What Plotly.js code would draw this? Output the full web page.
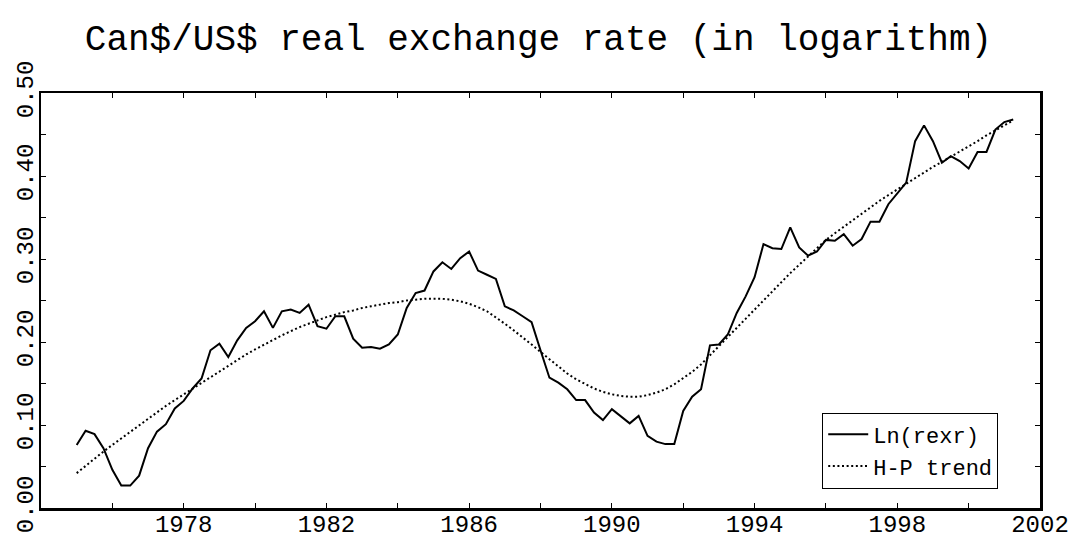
<!DOCTYPE html>
<html><head><meta charset="utf-8">
<script src="https://cdn.plot.ly/plotly-3.0.1.min.js"></script>
<style>html,body{margin:0;padding:0;background:#fff;}</style>
</head><body>
<div id="chart" style="width:1077px;height:538px;"></div>
<script>
const titleText = "Can$/US$ real exchange rate (in logarithm)";
const seriesNames = ["Ln(rexr)", "H-P trend"];
const firstYear = 1975;       // first observation: 1975 Q1
const periodsPerYear = 4;     // quarterly data

// Ln(real exchange rate), quarterly 1975Q1 - 2001Q2
const rexr = [
  0.076, 0.093, 0.089, 0.072,
  0.046, 0.027, 0.027, 0.039,
  0.072, 0.092, 0.101, 0.120,
  0.129, 0.144, 0.156, 0.190,
  0.198, 0.182, 0.202, 0.217,
  0.225, 0.237, 0.217, 0.237,
  0.239, 0.235, 0.245, 0.219,
  0.216, 0.231, 0.231, 0.204,
  0.193, 0.194, 0.192, 0.197,
  0.209, 0.241, 0.259, 0.262,
  0.285, 0.296, 0.288, 0.301,
  0.309, 0.286, 0.281, 0.276,
  0.243, 0.238, 0.231, 0.224,
  0.190, 0.157, 0.151, 0.143,
  0.130, 0.130, 0.115, 0.106,
  0.119, 0.111, 0.102, 0.111,
  0.087, 0.080, 0.077, 0.077,
  0.117, 0.134, 0.143, 0.196,
  0.197, 0.209, 0.235, 0.255,
  0.278, 0.318, 0.313, 0.312,
  0.338, 0.314, 0.304, 0.309,
  0.323, 0.322, 0.330, 0.316,
  0.324, 0.345, 0.345, 0.366,
  0.379, 0.392, 0.442, 0.461,
  0.442, 0.416, 0.424, 0.418,
  0.409, 0.429, 0.429, 0.456,
  0.465, 0.468
];

// Hodrick-Prescott trend, same quarters
const hpTrend = [
  0.042, 0.051, 0.060, 0.068,
  0.076, 0.084, 0.092, 0.100,
  0.108, 0.116, 0.123, 0.130,
  0.137, 0.144, 0.151, 0.158,
  0.165, 0.172, 0.179, 0.185,
  0.191, 0.197, 0.203, 0.208,
  0.213, 0.218, 0.222, 0.226,
  0.230, 0.233, 0.236, 0.238,
  0.241, 0.243, 0.245, 0.247,
  0.248, 0.250, 0.251, 0.252,
  0.252, 0.252, 0.251, 0.249,
  0.246, 0.242, 0.237, 0.230,
  0.222, 0.214, 0.206, 0.197,
  0.188, 0.179, 0.170, 0.162,
  0.155, 0.149, 0.144, 0.140,
  0.137, 0.135, 0.134, 0.134,
  0.136, 0.139, 0.143, 0.149,
  0.156, 0.164, 0.173, 0.184,
  0.195, 0.206, 0.217, 0.228,
  0.240, 0.251, 0.262, 0.272,
  0.283, 0.293, 0.303, 0.313,
  0.323, 0.331, 0.339, 0.347,
  0.355, 0.362, 0.370, 0.377,
  0.384, 0.391, 0.398, 0.405,
  0.411, 0.417, 0.423, 0.429,
  0.436, 0.442, 0.449, 0.455,
  0.461, 0.467
];

const xTickVals = [1976, 1978, 1980, 1982, 1984, 1986, 1988, 1990, 1992, 1994, 1996, 1998, 2000, 2002];
const xTickText = ["", "1978", "", "1982", "", "1986", "", "1990", "", "1994", "", "1998", "", "2002"];
const yTickVals = [0, 0.05, 0.10, 0.15, 0.20, 0.25, 0.30, 0.35, 0.40, 0.45, 0.50];
const yTickText = ["0.00", "", "0.10", "", "0.20", "", "0.30", "", "0.40", "", "0.50"];

const dates = rexr.map((_, i) => firstYear + i / periodsPerYear);

const mono = "Liberation Mono, Courier New, monospace";

const traces = [
  {x: dates, y: rexr, name: seriesNames[0], type: "scatter", mode: "lines",
   line: {color: "#000", width: 2}},
  {x: dates, y: hpTrend, name: seriesNames[1], type: "scatter", mode: "lines",
   line: {color: "#000", width: 2, dash: "2px,2.6px"}}
];

const axisCommon = {
  showline: true, linecolor: "#000", linewidth: 2.5, mirror: "ticks",
  ticks: "inside", ticklen: 5, tickwidth: 1, tickcolor: "#000",
  showgrid: false, zeroline: false, fixedrange: true,
  tickfont: {family: mono, size: 24, color: "#000"}
};

const layout = {
  width: 1077, height: 538,
  margin: {l: 41, r: 37, t: 93, b: 30},
  paper_bgcolor: "#fff", plot_bgcolor: "#fff",
  title: {text: titleText, font: {family: mono, size: 36, color: "#000"},
          x: 0.5, xanchor: "center", y: 0.93, yanchor: "middle", yref: "container"},
  xaxis: Object.assign({}, axisCommon, {range: [1974, 2002], tickmode: "array",
          tickvals: xTickVals, ticktext: xTickText, tickangle: 0, ticklabelstandoff: -7}),
  yaxis: Object.assign({}, axisCommon, {range: [0, 0.5], tickmode: "array",
          tickvals: yTickVals, ticktext: yTickText, tickangle: -90, ticklabelstandoff: -4}),
  showlegend: true,
  legend: {x: 0.782, y: 0.23, xanchor: "left", yanchor: "top",
           bgcolor: "#fff", bordercolor: "#000", borderwidth: 1,
           font: {family: mono, size: 22, color: "#000"}, itemwidth: 40}
};

Plotly.newPlot("chart", traces, layout, {staticPlot: true, displayModeBar: false});
</script>
</body></html>
